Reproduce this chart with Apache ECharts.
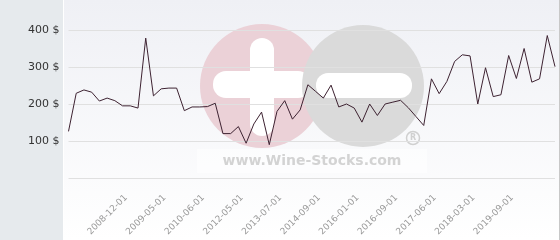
<!DOCTYPE html>
<html>
<head>
<meta charset="utf-8">
<script src="https://cdn.jsdelivr.net/npm/echarts@6/dist/echarts.min.js"></script>
<style>
html,body{margin:0;padding:0;background:#fff;}
#c{width:560px;height:240px;}
</style>
</head>
<body>
<div id="c"></div>
<script>
// Dates (labelled ones, others estimated)
var dates = [
 '2008-04-01','2008-05-01','2008-06-01','2008-07-01','2008-08-01','2008-09-01','2008-10-01','2008-11-01',
 '2008-12-01','2009-01-01','2009-02-01','2009-03-01','2009-04-01',
 '2009-05-01','2009-08-01','2009-10-01','2010-01-01','2010-03-01',
 '2010-06-01','2010-10-01','2011-03-01','2011-07-01','2011-12-01',
 '2012-05-01','2012-08-01','2012-11-01','2013-01-01','2013-04-01',
 '2013-07-01','2013-10-01','2014-01-01','2014-03-01','2014-06-01',
 '2014-09-01','2014-12-01','2015-04-01','2015-07-01','2015-10-01',
 '2016-01-01','2016-03-01','2016-04-01','2016-06-01','2016-07-01',
 '2016-09-01','2016-11-01','2017-01-01','2017-03-01','2017-04-01',
 '2017-06-01','2017-08-01','2017-10-01','2017-11-01','2018-01-01',
 '2018-03-01','2018-07-01','2018-10-01','2019-02-01','2019-05-01',
 '2019-09-01','2019-12-01','2020-03-01','2020-06-01','2020-09-01','2020-12-01'
];
var prices = [
 126,229,238,232,208,216,209,195,195,189,
 378,222,241,243,243,182,192,192,193,202,
 120,120,139,94,146,178,90,180,209,159,
 184,252,234,216,251,192,200,189,151,200,
 169,200,205,210,190,166,142,268,228,261,
 315,333,330,200,298,220,225,331,269,350,
 259,268,385,301
];
var labelledDates = ['2008-12-01','2009-05-01','2010-06-01','2012-05-01','2013-07-01','2014-09-01',
 '2016-01-01','2016-09-01','2017-06-01','2018-03-01','2019-09-01'];
var yTicks = [0,100,200,300,400];
var currency = ' $';

var chart = echarts.init(document.getElementById('c'), null, {renderer:'canvas'});
chart.setOption({
  animation:false,
  graphic:[
    {type:'rect', z:-100, shape:{x:0,y:0,width:63,height:240}, style:{fill:'#e6eaed'}},
    {type:'rect', z:-100, shape:{x:64,y:0,width:495,height:240},
      style:{fill:new echarts.graphic.LinearGradient(0,0,0,1,[{offset:0,color:'#eff0f5'},{offset:1,color:'#ffffff'}])}},
    {type:'rect', z:-100, shape:{x:559,y:0,width:1,height:240}, style:{fill:'#c8c8c8'}},
    {type:'circle', z:-60, shape:{cx:262,cy:86,r:62}, style:{fill:'#ebd1d7'}},
    {type:'rect', z:-59, shape:{x:250,y:38,width:24,height:98,r:12}, style:{fill:'#ffffff'}},
    {type:'rect', z:-59, shape:{x:213,y:71,width:98,height:27,r:13}, style:{fill:'#ffffff'}},
    {type:'circle', z:-58, shape:{cx:363,cy:86,r:61}, style:{fill:'#dadada'}},
    {type:'rect', z:-57, shape:{x:316,y:73,width:96,height:25,r:12}, style:{fill:'#ffffff'}},
    {type:'rect', z:-56, shape:{x:197,y:149,width:230,height:24}, style:{fill:'rgba(255,255,255,0.55)'}},
    {type:'text', z:-55, style:{x:312,y:161,text:'www.Wine-Stocks.com',textAlign:'center',textVerticalAlign:'middle',
      font:'bold 14px "DejaVu Sans"',fill:'#d3d3d3'}},
    {type:'circle', z:-55, shape:{cx:413,cy:138,r:6.5}, style:{fill:'none',stroke:'#d0d0d0',lineWidth:1.5}},
    {type:'text', z:-55, style:{x:413,y:138,text:'R',textAlign:'center',textVerticalAlign:'middle',
      font:'bold 8px "DejaVu Sans"',fill:'#d0d0d0'}}
  ],
  grid:{left:68.5,right:5,top:30,bottom:62,containLabel:false},
  xAxis:{
    type:'category', data:dates, boundaryGap:false,
    axisLine:{show:false}, axisTick:{show:false},
    axisLabel:{
      rotate:45, fontSize:9, color:'#999', fontFamily:'DejaVu Sans', margin:14, padding:[0,6,0,0],
      interval:function(i,v){return labelledDates.indexOf(v)>=0;}
    },
    splitLine:{show:false}
  },
  yAxis:{
    type:'value', min:yTicks[0], max:yTicks[yTicks.length-1], interval:100,
    axisLine:{show:false}, axisTick:{show:false},
    axisLabel:{fontSize:11, color:'#333', fontFamily:'DejaVu Sans', margin:9,
      formatter:function(v){return v===0?'':v+currency;}},
    splitLine:{lineStyle:{color:'#e0e0e0',width:1}}
  },
  series:[{
    type:'line', data:prices, showSymbol:false, symbol:'none',
    lineStyle:{color:'#3d2231',width:1}, z:5
  }]
});
</script>
</body>
</html>
